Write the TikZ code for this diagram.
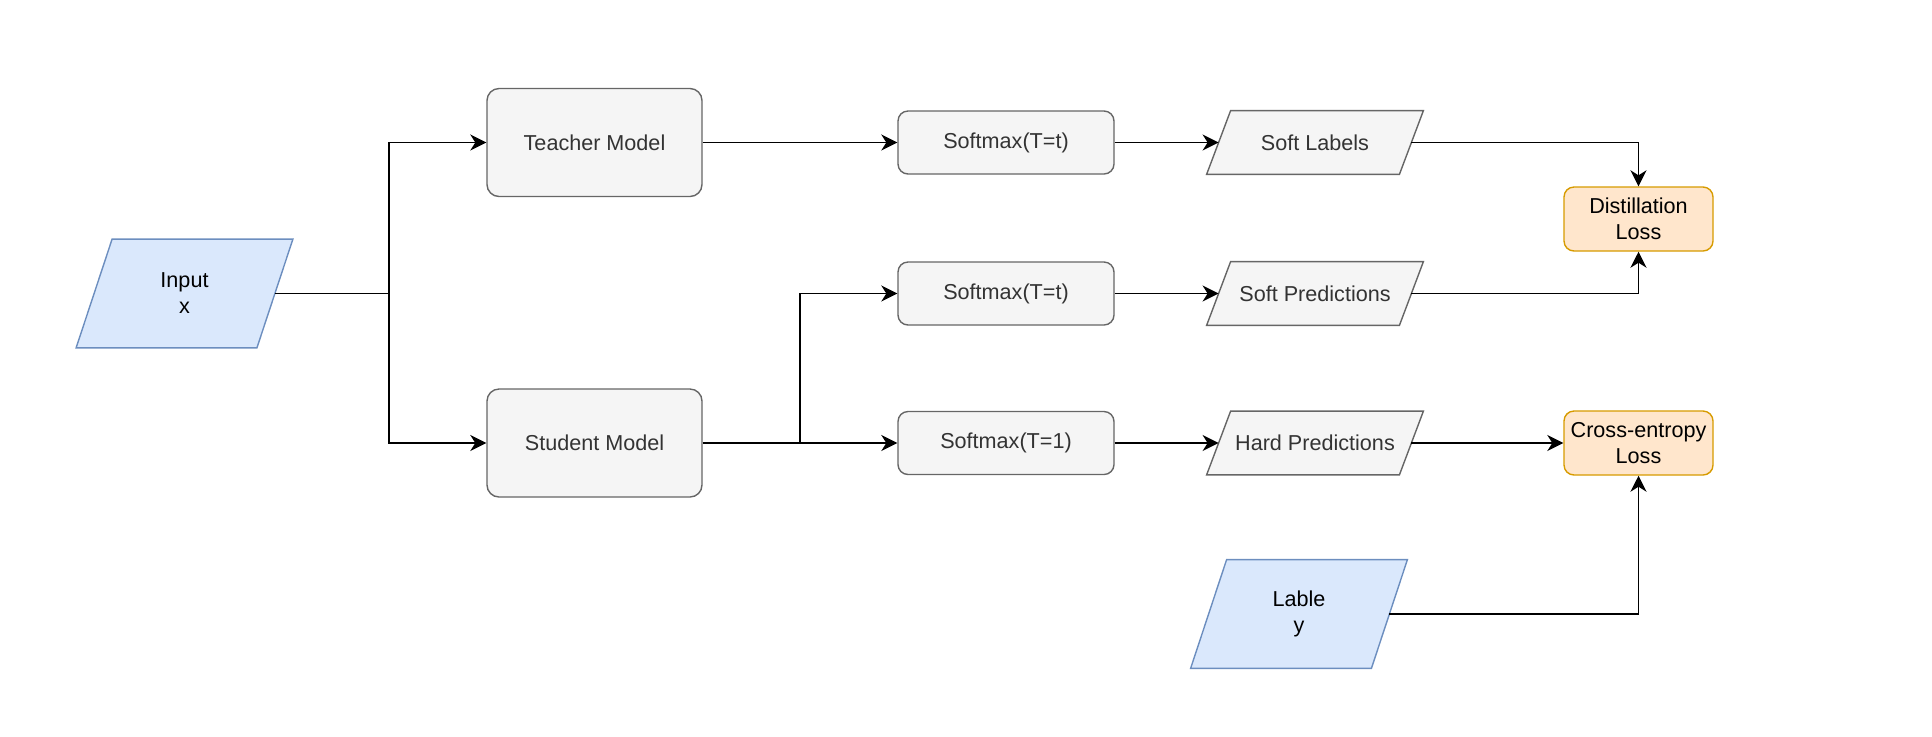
\documentclass[tikz,border=0pt]{standalone}
\usepackage{fontspec}
\setmainfont{Liberation Sans}
\usetikzlibrary{arrows.meta,positioning,backgrounds}

\definecolor{grayfill}{HTML}{F5F5F5}
\definecolor{graydraw}{HTML}{666666}
\definecolor{graytext}{HTML}{333333}
\definecolor{bluefill}{HTML}{DAE8FC}
\definecolor{bluedraw}{HTML}{6C8EBF}
\definecolor{orangefill}{HTML}{FFE6CC}
\definecolor{orangedraw}{HTML}{D79B00}

\begin{document}
\begin{tikzpicture}[x=0.5pt, y=-0.5pt,
    font=\fontsize{10.8}{13}\selectfont,
    model/.style={rectangle, rounded corners=6pt, draw=graydraw, fill=grayfill,
      text=graytext, line width=0.7pt, minimum width=107.5pt, minimum height=54pt},
    softmax/.style={rectangle, rounded corners=5pt, draw=graydraw, fill=grayfill,
      text=graytext, line width=0.7pt, minimum width=108pt, minimum height=31.5pt},
    output/.style={rectangle, text=graytext, minimum width=108pt, minimum height=31.5pt,
      inner sep=0pt},
    data/.style={rectangle, align=center, minimum width=108pt, minimum height=54pt,
      inner sep=0pt},
    outputshape/.style={draw=graydraw, fill=grayfill, line width=0.7pt},
    datashape/.style={draw=bluedraw, fill=bluefill, line width=0.7pt},
    loss/.style={rectangle, rounded corners=5pt, draw=orangedraw, fill=orangefill,
      align=center, line width=0.7pt, minimum width=74.5pt, minimum height=32pt,
      inner sep=1pt},
    arr/.style={-{Stealth[length=8pt, width=8pt, inset=2.5pt]}, line width=0.9pt}
  ]
    \useasboundingbox (0,0) rectangle (1932,736);

    % inputs
    \node [data] (input) at (184.5,293.5) {Input\\x};
    \node [data] (label) at (1299,614) {Lable\\y};

    % teacher and student
    \node [model] (teacher) at (594.5,142.5) {Teacher Model};
    \node [model] (student) at (594.5,443) {Student Model};

    % softmax layers
    \node [softmax] (smTeacher) at (1006,142.5) {Softmax(T=t)};
    \node [softmax] (smSoft) at (1006,293.5) {Softmax(T=t)};
    \node [softmax] (smHard) at (1006,443) {Softmax(T=1)};

    % outputs
    \node [output] (softLabels) at (1315,142.5) {Soft Labels};
    \node [output] (softPreds) at (1315,293.5) {Soft Predictions};
    \node [output] (hardPreds) at (1315,443) {Hard Predictions};

    % losses
    \node [loss] (distLoss) at (1638.5,219) {Distillation\\Loss};
    \node [loss] (ceLoss) at (1638.5,443) {Cross-entropy\\Loss};

    % parallelograms behind the texts
    \begin{scope}[on background layer]
      \draw [datashape] ([xshift=18pt]input.north west) -- (input.north east)
        -- ([xshift=-18pt]input.south east) -- (input.south west) -- cycle;
      \draw [datashape] ([xshift=18pt]label.north west) -- (label.north east)
        -- ([xshift=-18pt]label.south east) -- (label.south west) -- cycle;
      \draw [outputshape] ([xshift=12pt]softLabels.north west) -- (softLabels.north east)
        -- ([xshift=-12pt]softLabels.south east) -- (softLabels.south west) -- cycle;
      \draw [outputshape] ([xshift=12pt]softPreds.north west) -- (softPreds.north east)
        -- ([xshift=-12pt]softPreds.south east) -- (softPreds.south west) -- cycle;
      \draw [outputshape] ([xshift=12pt]hardPreds.north west) -- (hardPreds.north east)
        -- ([xshift=-12pt]hardPreds.south east) -- (hardPreds.south west) -- cycle;
    \end{scope}

    \coordinate (inSplit) at (389,293.5);
    \coordinate (stSplit) at (800,443);

    \draw [line width=0.9pt] ([xshift=-9pt]input.east) -- (inSplit);
    \draw [arr] (inSplit) |- (teacher.west);
    \draw [arr] (inSplit) |- (student.west);

    \draw [arr] (teacher) -- (smTeacher);
    \draw [arr] (smTeacher) -- ([xshift=6pt]softLabels.west);
    \draw [arr] ([xshift=-6pt]softLabels.east) -| (distLoss.north);

    \draw [arr] (student) -- (smHard);
    \draw [arr] (stSplit) |- (smSoft.west);
    \draw [arr] (smSoft) -- ([xshift=6pt]softPreds.west);
    \draw [arr] ([xshift=-6pt]softPreds.east) -| (distLoss.south);

    \draw [arr] (smHard) -- ([xshift=6pt]hardPreds.west);
    \draw [arr] ([xshift=-6pt]hardPreds.east) -- (ceLoss);
    \draw [arr] ([xshift=-9pt]label.east) -| (ceLoss.south);
\end{tikzpicture}
\end{document}
